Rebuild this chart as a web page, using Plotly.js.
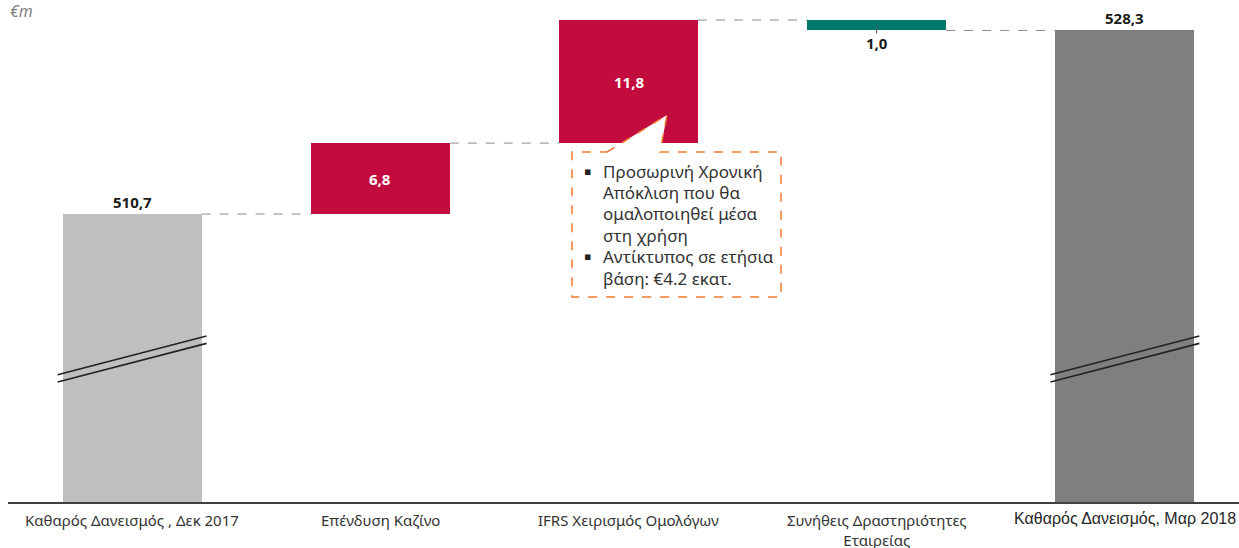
<!DOCTYPE html>
<html><head><meta charset="utf-8">
<script src="https://cdn.plot.ly/plotly-3.0.1.min.js"></script>
<style>html,body{margin:0;padding:0;background:#fff;}#chart{width:1239px;height:548px;}</style>
</head><body><div id="chart"></div>
<script>
const categories = ["Καθαρός Δανεισμός , Δεκ 2017", "Επένδυση Καζίνο", "IFRS Χειρισμός Ομολόγων", "Συνήθεις Δραστηριότητες<br>Εταιρείας", "Καθαρός Δανεισμός, Μαρ 2018"];
const values = [510.7, 6.8, 11.8, -1.0, 528.3];
const measures = ["absolute", "relative", "relative", "relative", "total"];
const valueLabels = ["510,7", "6,8", "11,8", "1,0", "528,3"];
const barColors = ["#BFBFBF", "#C30C3E", "#C30C3E", "#00786C", "#7F7F7F"];
const calloutLines = ["Προσωρινή Χρονική", "Απόκλιση που θα", "ομαλοποιηθεί μέσα", "στη χρήση", "Αντίκτυπος σε ετήσια", "βάση: €4.2 εκατ."];
const calloutBulletLines = [0, 4];

// layout geometry
const W = 1239, H = 548, ML = 8, MR = 0, MT = 0, MB = 46;
const PW = W - ML - MR, PH = H - MT - MB;
const fx = px => (px - ML) / PW;
const fy = py => (PH + MT - py) / PH;
const BW = 0.56;

// compute bars
let level = 0;
const bases = [], heights = [], tops = [], ends = [];
values.forEach((v, i) => {
  if (measures[i] === "absolute" || measures[i] === "total") {
    bases.push(0); heights.push(v); level = v;
  } else {
    bases.push(level); heights.push(v); level += v;
  }
  ends.push(level);
  tops.push(Math.max(bases[i], bases[i] + heights[i]));
});
const xs = categories.map((c, i) => i);

const traces = [{
  type: "bar", x: xs, y: heights, base: bases, width: BW,
  marker: {color: barColors, line: {width: 0}},
  hoverinfo: "skip", showlegend: false
}];

const shapes = [];
// connectors
for (let i = 0; i < values.length - 1; i++) {
  shapes.push({type: "line", xref: "x", yref: "y", x0: i + BW / 2, x1: i + 1 - BW / 2, y0: ends[i], y1: ends[i],
    line: {color: "#8C8C8C", width: 1, dash: "dash"}});
}
// small tick on the decrease bar
values.forEach((v, i) => {
  if (measures[i] === "relative" && v < 0) {
    shapes.push({type: "line", xref: "x", yref: "y", x0: i, x1: i, y0: bases[i] + v * 0.5, y1: bases[i] + v * 1.3,
      line: {color: "#555", width: 1}});
  }
});
// axis break marks on the absolute/total bars
values.forEach((v, i) => {
  if (measures[i] !== "relative") {
    shapes.push({type: "line", xref: "x", yref: "y", x0: i - 0.3, x1: i + 0.3, y0: 495.3, y1: 499.0, line: {color: "#222", width: 1.6}});
    shapes.push({type: "line", xref: "x", yref: "y", x0: i - 0.3, x1: i + 0.3, y0: 494.6, y1: 498.3, line: {color: "#222", width: 1.6}});
  }
});
// callout bubble
const pts = [[607,152],[667,115],[660,152],[781,152],[781,297],[572,297],[572,152]];
const path = "M" + pts.map(p => fx(p[0]).toFixed(5) + "," + fy(p[1]).toFixed(5)).join(" L") + " Z";
shapes.push({type: "path", xref: "paper", yref: "paper", path: path, fillcolor: "#FFFFFF",
  line: {color: "#F47A30", width: 1.5, dash: "dash"}});

const annotations = [];
values.forEach((v, i) => {
  const f = {family: "Noto Sans, Open Sans, sans-serif", size: 15, color: "#1A1A1A"};
  if (measures[i] !== "relative") {
    annotations.push({x: i, y: tops[i], xref: "x", yref: "y", text: "<b>" + valueLabels[i] + "</b>", showarrow: false, yanchor: "bottom", yshift: 0, font: f});
  } else if (v < 0) {
    annotations.push({x: i, y: bases[i] + v, xref: "x", yref: "y", text: "<b>" + valueLabels[i] + "</b>", showarrow: false, yanchor: "top", yshift: -1, font: f});
  } else {
    annotations.push({x: i, y: bases[i] + v / 2, xref: "x", yref: "y", text: "<b>" + valueLabels[i] + "</b>", showarrow: false, yanchor: "middle",
      font: Object.assign({}, f, {color: "#FFFFFF"})});
  }
});
// category labels
categories.forEach((c, i) => {
  const last = i === categories.length - 1;
  annotations.push({x: i, xref: "x", yref: "paper", y: fy(509), yanchor: "top", text: c, showarrow: false, borderpad: 0,
    font: last ? {family: "Liberation Sans, Arial, sans-serif", size: 16, color: "#262626"}
               : {family: "Noto Sans, sans-serif", size: 15, color: "#333333"}});
});
annotations.push({xref: "paper", yref: "paper", x: fx(8), y: fy(11), xanchor: "left", yanchor: "middle", text: "<i>€m</i>", showarrow: false,
  font: {family: "Noto Sans, sans-serif", size: 16, color: "#7F7F7F"}});
calloutLines.forEach((t, j) => {
  const py = 171 + j * 21.4;
  annotations.push({xref: "paper", yref: "paper", x: fx(601), y: fy(py), xanchor: "left", yanchor: "middle", text: t, showarrow: false,
    font: {family: "Noto Sans, sans-serif", size: 17, color: "#333333"}});
  if (calloutBulletLines.includes(j)) {
    annotations.push({xref: "paper", yref: "paper", x: fx(587), y: fy(py), xanchor: "center", yanchor: "middle", text: "▪", showarrow: false,
      font: {family: "DejaVu Sans, sans-serif", size: 11, color: "#222222"}});
  }
});

const layout = {
  width: W, height: H, margin: {l: ML, r: MR, t: MT, b: MB, pad: 0},
  paper_bgcolor: "#FFFFFF", plot_bgcolor: "#FFFFFF",
  xaxis: {range: [-0.5, -0.5 + PW / 248.2], tickvals: xs, showticklabels: false, showgrid: false, zeroline: false,
    showline: true, linecolor: "#404040", linewidth: 1.5, ticks: "", fixedrange: true},
  yaxis: {range: [483.09, 531.22], visible: false, showgrid: false, zeroline: false, fixedrange: true},
  shapes: shapes, annotations: annotations, bargap: 0, showlegend: false
};
Plotly.newPlot("chart", traces, layout, {displayModeBar: false, staticPlot: true});
</script></body></html>
